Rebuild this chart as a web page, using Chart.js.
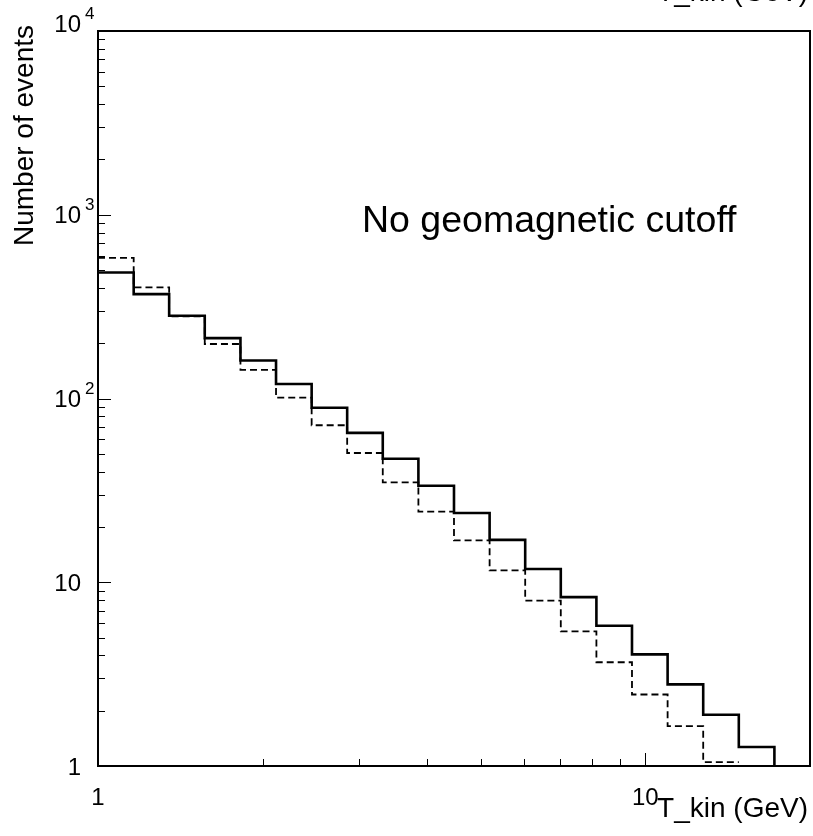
<!DOCTYPE html>
<html>
<head>
<meta charset="utf-8">
<title>T_kin spectrum</title>
<script src="https://cdn.jsdelivr.net/npm/chart.js@4.4.1/dist/chart.umd.min.js"></script>
<style>
  html, body { margin: 0; padding: 0; background: #fff; }
  canvas { display: block; }
</style>
</head>
<body>
<canvas id="spectrum" width="813" height="836"></canvas>
<script>
/* ── Histogram contents ── */
// log-uniform bin edges in kinetic energy (GeV), 1 to 20
var binEdges = [1, 1.162, 1.349, 1.567, 1.821, 2.115, 2.457, 2.853, 3.314, 3.850,
                4.472, 5.195, 6.034, 7.009, 8.142, 9.457, 10.986, 12.761, 14.823, 17.218, 20];

// events per bin, solid histogram
var countsSolid = [485, 370, 282, 213, 161, 120, 89, 65, 47, 33.5,
                   23.8, 17.0, 11.8, 8.3, 5.8, 4.05, 2.78, 1.9, 1.27];

// events per bin, dashed histogram
var countsDashed = [582, 402, 280, 198, 143, 101, 71.5, 50.5, 35, 24.2,
                    16.9, 11.6, 7.95, 5.4, 3.67, 2.45, 1.65, 1.05];

// axis ranges and tick labels
var xRange = [1, 20];
var yRange = [1, 10000];
var xTickValues = [1, 10];
var xTickLabels = ['1', '10'];
var yTickValues = [1, 10, 100, 1000, 10000];
var yTickBases = ['1', '10', '10', '10', '10'];
var yTickExponents = ['', '', '2', '3', '4'];
var minorSteps = [2, 3, 4, 5, 6, 7, 8, 9];

var FONT = '"Liberation Sans", Arial, Helvetica, sans-serif';

// turn per-bin counts into step-line vertices
function histPoints(counts, dropToAxis) {
    var pts = counts.map(function (c, i) { return { x: binEdges[i], y: c }; });
    var n = counts.length;
    pts.push({ x: binEdges[n], y: counts[n - 1] });
    if (dropToAxis) pts.push({ x: binEdges[n], y: yRange[0] });
    return pts;
}

/* ── Frame, ROOT-style inner ticks and labels ── */
var rootAxesPlugin = {
    id: 'rootAxes',
    afterDraw: function (chart) {
        var ctx = chart.ctx;
        var area = chart.chartArea;
        var xs = chart.scales.x;
        var ys = chart.scales.y;
        ctx.save();

        // frame
        ctx.strokeStyle = '#000';
        ctx.lineWidth = 2;
        ctx.strokeRect(area.left, area.top, area.right - area.left, area.bottom - area.top);

        // y ticks on the left edge
        ctx.lineWidth = 1;
        ctx.beginPath();
        yTickValues.forEach(function (dec) {
            [1].concat(minorSteps).forEach(function (m) {
                var v = dec * m;
                if (v > yRange[1]) return;
                var py = Math.round(ys.getPixelForValue(v)) + 0.5;
                ctx.moveTo(area.left, py);
                ctx.lineTo(area.left + (m === 1 ? 13 : 7), py);
            });
        });
        // x ticks on the bottom edge
        [1, 10].forEach(function (dec) {
            [1].concat(minorSteps).forEach(function (m) {
                var v = dec * m;
                if (v >= xRange[1]) return;
                var px = Math.round(xs.getPixelForValue(v)) + 0.5;
                ctx.moveTo(px, area.bottom);
                ctx.lineTo(px, area.bottom - (m === 1 ? 13 : 7));
            });
        });
        ctx.stroke();

        ctx.fillStyle = '#000';
        ctx.textBaseline = 'alphabetic';

        // y tick labels: mantissa plus raised exponent
        yTickValues.forEach(function (v, i) {
            var py = ys.getPixelForValue(v);
            var base = py + 8.5;
            if (v === yRange[1]) base = area.top + 1;
            ctx.font = '24px ' + FONT;
            ctx.textAlign = 'right';
            ctx.fillText(yTickBases[i], 81, base);
            if (yTickExponents[i]) {
                ctx.font = '17px ' + FONT;
                ctx.textAlign = 'left';
                ctx.fillText(yTickExponents[i], 85, base - 13);
            }
        });

        // x tick labels
        ctx.font = '24px ' + FONT;
        ctx.textAlign = 'center';
        xTickValues.forEach(function (v, i) {
            ctx.fillText(xTickLabels[i], xs.getPixelForValue(v), 805);
        });

        // axis titles
        ctx.font = '28px ' + FONT;
        ctx.textAlign = 'right';
        ctx.fillText('T_kin (GeV)', 808, 817);
        ctx.fillText('T_kin (GeV)', 808, 1);

        ctx.save();
        ctx.translate(33, 25);
        ctx.rotate(-Math.PI / 2);
        ctx.font = '28px ' + FONT;
        ctx.textAlign = 'right';
        ctx.fillText('Number of events', 0, 0);
        ctx.restore();

        // annotation
        ctx.font = '37.5px ' + FONT;
        ctx.textAlign = 'left';
        ctx.fillText('No geomagnetic cutoff', 362, 232);

        ctx.restore();
    }
};

var ctx = document.getElementById('spectrum').getContext('2d');
var spectrumChart = new Chart(ctx, {
    type: 'line',
    data: {
        datasets: [{
            label: 'solid',
            data: histPoints(countsSolid, true),
            stepped: 'before',
            borderColor: '#000',
            borderWidth: 2.6,
            pointRadius: 0,
            fill: false
        }, {
            label: 'dashed',
            data: histPoints(countsDashed, false),
            stepped: 'before',
            borderColor: '#000',
            borderWidth: 1.8,
            borderDash: [7, 4],
            pointRadius: 0,
            fill: false
        }]
    },
    options: {
        responsive: false,
        devicePixelRatio: 1,
        animation: false,
        parsing: false,
        layout: { padding: { left: 98, top: 31, right: 3, bottom: 70 } },
        plugins: {
            legend: { display: false },
            tooltip: { enabled: false }
        },
        scales: {
            x: { type: 'logarithmic', min: xRange[0], max: xRange[1], display: false },
            y: { type: 'logarithmic', min: yRange[0], max: yRange[1], display: false }
        }
    },
    plugins: [rootAxesPlugin]
});
</script>
</body>
</html>
